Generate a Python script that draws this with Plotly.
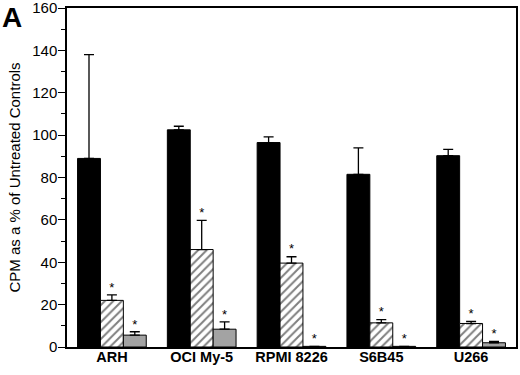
import plotly.graph_objects as go

categories = ["ARH", "OCI My-5", "RPMI 8226", "S6B45", "U266"]
black_vals = [89.0, 102.5, 96.5, 81.5, 90.3]
black_err = [49.0, 1.7, 2.7, 12.5, 3.0]
hatched_vals = [22.0, 46.0, 39.6, 11.4, 11.1]
hatched_err = [2.6, 13.8, 3.0, 1.5, 1.0]
gray_vals = [5.6, 8.4, 0.3, 0.3, 2.0]
gray_err = [1.6, 3.5, 0.0, 0.0, 0.7]
hatched_marks = ["*", "*", "*", "*", "*"]
gray_marks = ["*", "*", "*", "*", "*"]
y_ticks = [0, 20, 40, 60, 80, 100, 120, 140, 160]

W = 0.255
offsets = [-W, 0.0, W]
idx = list(range(len(categories)))

fig = go.Figure()

def add_bar(vals, errs, off, color, pattern=None):
    fig.add_trace(go.Bar(
        x=[i + off for i in idx], y=vals, width=W,
        marker=dict(color=color, line=dict(color="black", width=1),
                    pattern=pattern),
        error_y=dict(type="data", symmetric=False, array=errs,
                     arrayminus=[0] * len(errs), color="black",
                     thickness=1.3, width=5),
        showlegend=False, hoverinfo="skip"))

add_bar(black_vals, black_err, offsets[0], "black")
add_bar(hatched_vals, hatched_err, offsets[1], "white",
        dict(shape="/", fgcolor="black", bgcolor="white", size=6, solidity=0.33))
add_bar(gray_vals, gray_err, offsets[2], "#a3a3a3")

def add_marks(vals, errs, off, marks):
    fig.add_trace(go.Scatter(
        x=[i + off for i in idx], y=[v + e for v, e in zip(vals, errs)],
        mode="text", text=marks, textposition="top center",
        textfont=dict(family="Liberation Sans, Arial", size=13, color="black"),
        showlegend=False, hoverinfo="skip"))

add_marks(hatched_vals, hatched_err, offsets[1], hatched_marks)
add_marks(gray_vals, gray_err, offsets[2], gray_marks)

fig.update_layout(
    width=520, height=375,
    margin=dict(l=67, r=4, t=8, b=28),
    plot_bgcolor="white", paper_bgcolor="white",
    font=dict(family="Liberation Sans, Arial", size=13, color="black"),
    xaxis=dict(range=[-0.5, len(categories) - 0.5], tickvals=idx,
               ticktext=["<b>%s</b>" % c for c in categories],
               showline=True, linecolor="black", linewidth=1.5, mirror=True,
               ticks="", showgrid=False, zeroline=False, automargin=False,
               ticklabelstandoff=-4,
               tickfont=dict(size=14.5)),
    yaxis=dict(range=[0, 160], tickvals=y_ticks, showline=True,
               linecolor="black", linewidth=1.5, mirror=True,
               ticks="outside", ticklen=7, tickcolor="black",
               ticklabeloverflow="allow", ticklabelstandoff=-2,
               automargin=False,
               minor=dict(dtick=10, ticks="outside", ticklen=4, tickcolor="black"),
               showgrid=False, zeroline=False,
               title=dict(text="CPM as a % of Untreated Controls",
                          font=dict(size=15), standoff=8),
               tickfont=dict(size=15)),
    annotations=[dict(text="<b>A</b>", x=0, y=1.0, xref="paper", yref="paper",
                      xanchor="left", yanchor="top", showarrow=False,
                      font=dict(size=28, family="Liberation Sans, Arial"),
                      xshift=-67, yshift=8)],
)

fig.write_html("out.html", config={"displayModeBar": False},
               post_script="document.body.style.margin='0';document.body.style.overflow='hidden';")
